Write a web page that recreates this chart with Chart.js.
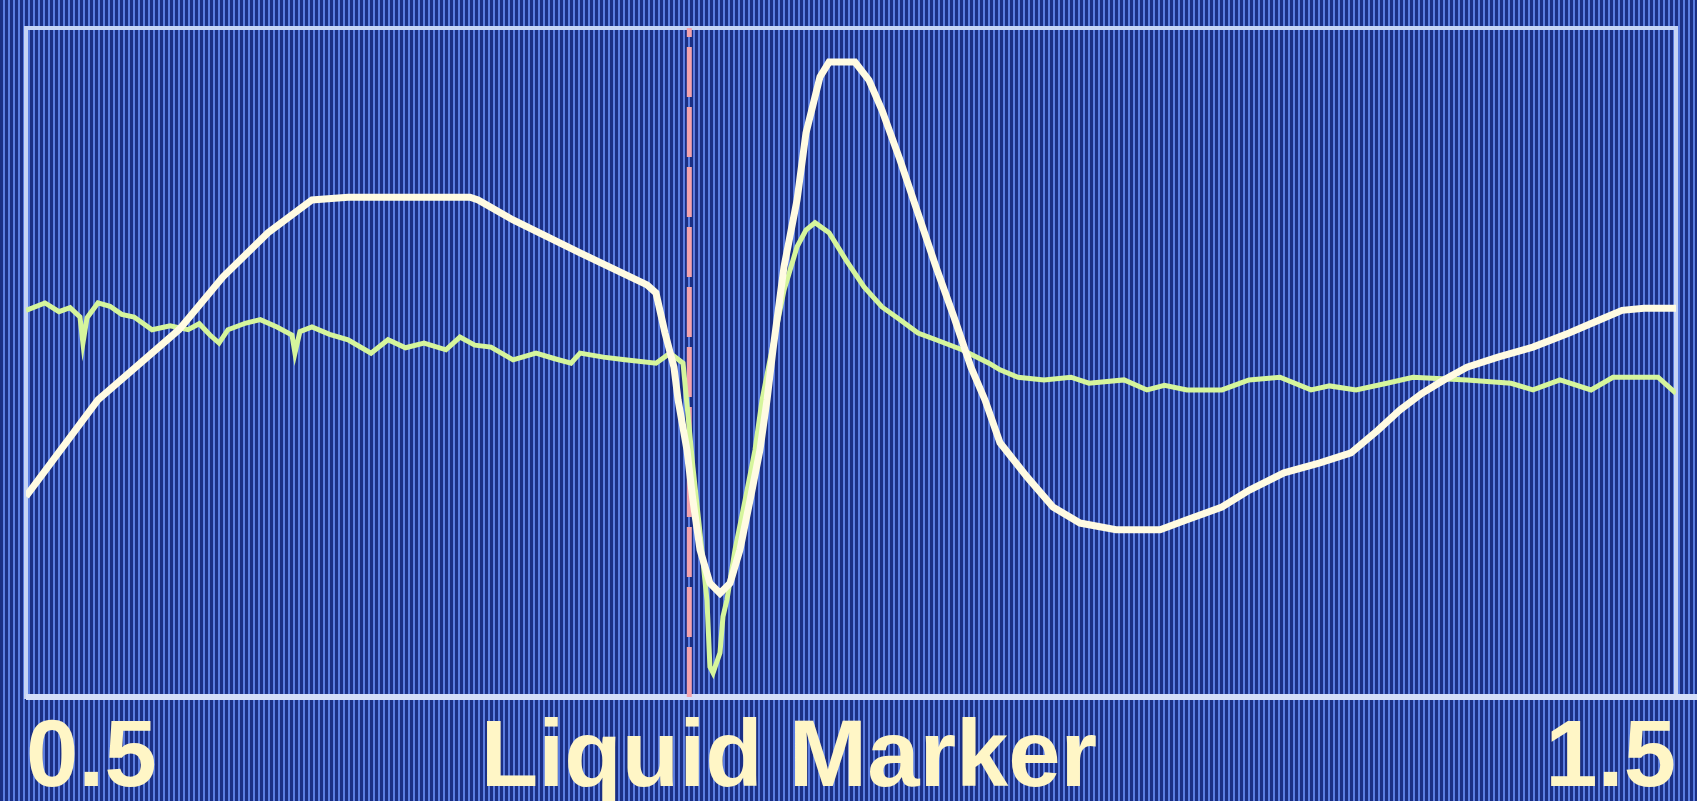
<!DOCTYPE html>
<html lang="en">
<head>
  <meta charset="UTF-8">
  <title>Liquid Marker</title>
  <style>
    html, body {
      margin: 0;
      padding: 0;
      overflow: hidden;
      background-color: #26408f;
    }
    .chart-box {
      position: absolute;
      left: 0;
      top: 0;
      width: 1697px;
      height: 801px;
      background-image: repeating-linear-gradient(90deg, #1b2f84 0px, #1b2f84 3px, #5b7de0 3px, #5b7de0 5px);
    }
  </style>
</head>
<body>
  <div class="chart-box">
    <canvas id="scope"></canvas>
  </div>

  <script src="https://cdn.jsdelivr.net/npm/chart.js"></script>
  <script>
    // x range and tick labels
    const tickValues = [0.5, 1.5];
    const tickLabels = ['0.5', '1.5'];
    const axisTitle = 'Liquid Marker';

    // marker position (dashed line)
    const markerX = 0.902;

    // white trace [x, y]  (y in % of screen height)
    const whiteTrace = [
      [0.5, 30.0], [0.5436, 44.4], [0.5927, 54.9], [0.6194, 62.8], [0.6467, 69.4],
      [0.6733, 74.3], [0.6952, 74.7], [0.7691, 74.7], [0.774, 74.3], [0.7952, 71.3],
      [0.8358, 66.4], [0.8764, 61.6], [0.8818, 60.4], [0.8873, 54.4], [0.8927, 49.3],
      [0.8952, 44.4], [0.9006, 36.9], [0.9042, 29.4], [0.9085, 22.0], [0.9145, 17.0],
      [0.9206, 15.5], [0.9267, 17.0], [0.9327, 22.0], [0.9388, 29.4], [0.9448, 36.9],
      [0.9491, 44.4], [0.9527, 51.9], [0.9594, 64.3], [0.9673, 74.3], [0.9727, 84.3],
      [0.9812, 92.7], [0.9867, 94.9], [1.0024, 94.9], [1.0109, 92.2], [1.0188, 87.7],
      [1.0297, 80.3], [1.0406, 72.3], [1.0515, 64.3], [1.0624, 56.8], [1.0727, 49.3],
      [1.0812, 44.4], [1.0903, 38.0], [1.1067, 32.9], [1.1224, 28.4], [1.1388, 26.0],
      [1.1606, 25.0], [1.1873, 25.0], [1.2036, 26.5], [1.2248, 28.4], [1.2412, 30.9],
      [1.2624, 33.5], [1.2842, 35.0], [1.3030, 36.5], [1.3194, 39.9], [1.3327, 42.9],
      [1.3461, 45.4], [1.3594, 47.4], [1.3733, 49.3], [1.3921, 50.8], [1.4133, 52.3],
      [1.4352, 54.4], [1.4539, 56.4], [1.4673, 57.8], [1.4806, 58.1], [1.5, 58.1]
    ];

    // green trace [x, y]
    const greenTrace = [
      [0.5, 57.8], [0.5115, 58.9], [0.52, 57.6], [0.5267, 58.2], [0.5327, 56.8], [0.5345, 52.9],
      [0.537, 56.7], [0.5436, 58.9], [0.5509, 58.4], [0.558, 57.2], [0.5655, 56.8], [0.5764, 54.9],
      [0.5873, 55.5], [0.5982, 54.9], [0.605, 55.8], [0.6115, 54.1], [0.617, 52.9], [0.6224, 54.9],
      [0.6333, 55.9], [0.642, 56.4], [0.6521, 55.3], [0.6612, 54.1], [0.663, 51.4], [0.666, 54.6],
      [0.6733, 55.3], [0.684, 54.2], [0.6952, 53.4], [0.7091, 51.4], [0.7194, 53.4], [0.73, 52.2],
      [0.7412, 52.9], [0.7545, 51.9], [0.763, 53.8], [0.772, 52.6], [0.7818, 52.3], [0.7952, 50.4],
      [0.8091, 51.4], [0.82, 50.6], [0.8303, 49.9], [0.8358, 51.4], [0.85, 50.8], [0.863, 50.4],
      [0.8818, 49.9], [0.8903, 51.4], [0.8982, 49.9], [0.9042, 34.4], [0.9085, 24.5], [0.9127, 14.5],
      [0.9145, 4.5], [0.9164, 3.6], [0.9206, 6.6], [0.9224, 12.0], [0.9248, 14.5], [0.9297, 22.0],
      [0.9358, 29.4], [0.9418, 36.9], [0.9461, 44.4], [0.9521, 51.9], [0.9594, 60.8],
      [0.9673, 67.3], [0.9727, 69.8], [0.9782, 70.9], [0.9867, 69.4], [0.997, 65.3],
      [1.0079, 61.3], [1.0188, 58.3], [1.0297, 56.4], [1.0406, 54.4], [1.0515, 53.4],
      [1.0673, 51.9], [1.0836, 49.9], [1.0903, 48.9], [1.1012, 47.8], [1.117, 47.4],
      [1.1333, 47.8], [1.1442, 46.9], [1.1655, 47.4], [1.1794, 45.9], [1.19, 46.6], [1.2036, 45.9],
      [1.2248, 45.9], [1.2412, 47.4], [1.26, 47.8], [1.2788, 45.9], [1.29, 46.5], [1.3061, 45.9],
      [1.3248, 46.9], [1.3406, 47.8], [1.3733, 47.4], [1.4, 46.9], [1.4133, 45.9],
      [1.4297, 47.4], [1.4485, 45.9], [1.4618, 47.8], [1.4891, 47.8], [1.5, 45.4]
    ];

    const textColor = '#fff6c6';
    const labelFont = { family: "'Liberation Sans', Arial, sans-serif", size: 94, weight: 'bold', lineHeight: 1 };

    // frame around the plot + the x title
    const scopeFrame = {
      id: 'scopeFrame',
      beforeDatasetsDraw(chart) {
        const { ctx, chartArea: a } = chart;
        ctx.save();
        ctx.strokeStyle = '#c6d4f4';
        ctx.lineWidth = 4;
        ctx.strokeRect(a.left, a.top, a.right - a.left, a.bottom - a.top);
        ctx.lineWidth = 6;
        ctx.strokeStyle = '#d4def8';
        ctx.beginPath();
        ctx.moveTo(a.left, a.bottom);
        ctx.lineTo(chart.width, a.bottom);
        ctx.stroke();
        ctx.restore();
      },
      afterDraw(chart) {
        const { ctx, chartArea: a } = chart;
        ctx.save();
        ctx.font = `bold ${labelFont.size}px ${labelFont.family}`;
        ctx.fillStyle = textColor;
        ctx.textAlign = 'center';
        ctx.textBaseline = 'top';
        ctx.fillText(axisTitle, 789, a.bottom + 16);
        ctx.restore();
      }
    };

    const ctx = document.getElementById('scope').getContext('2d');
    new Chart(ctx, {
      type: 'line',
      data: {
        datasets: [
          {
            label: 'white',
            data: whiteTrace.map(p => ({ x: p[0], y: p[1] })),
            borderColor: '#fffbe2',
            borderWidth: 7,
            pointRadius: 0,
            tension: 0
          },
          {
            label: 'green',
            data: greenTrace.map(p => ({ x: p[0], y: p[1] })),
            borderColor: '#d6f59c',
            borderWidth: 5,
            pointRadius: 0,
            tension: 0
          },
          {
            label: 'marker',
            data: [{ x: markerX, y: 0 }, { x: markerX, y: 100 }],
            borderColor: '#f3a3ad',
            borderWidth: 5,
            borderDash: [50, 10],
            pointRadius: 0
          }
        ]
      },
      options: {
        responsive: true,
        maintainAspectRatio: false,
        animation: false,
        layout: { padding: { left: 26, right: 21, top: 28, bottom: 0 } },
        plugins: {
          legend: { display: false },
          tooltip: { enabled: false }
        },
        scales: {
          x: {
            type: 'linear',
            min: tickValues[0],
            max: tickValues[tickValues.length - 1],
            afterBuildTicks: scale => {
              scale.ticks = tickValues.map(v => ({ value: v }));
            },
            afterFit: scale => { scale.height = 104; },
            grid: { display: false, drawTicks: false },
            border: { display: false },
            ticks: {
              align: 'inner',
              padding: 16,
              maxRotation: 0,
              color: textColor,
              font: labelFont,
              callback: (v) => tickLabels[tickValues.indexOf(v)]
            }
          },
          y: {
            display: false,
            min: 0,
            max: 100
          }
        }
      },
      plugins: [scopeFrame]
    });
  </script>
</body>
</html>
